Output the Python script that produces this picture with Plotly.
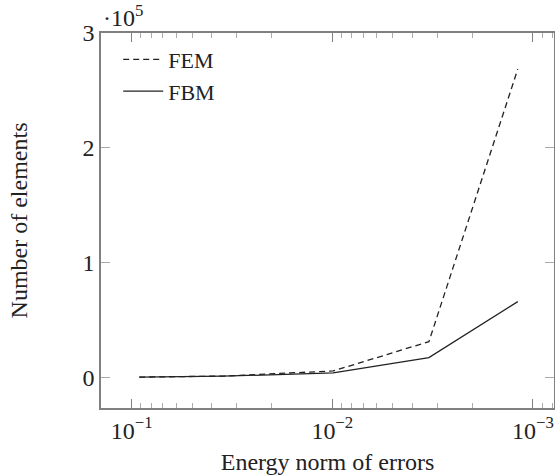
import plotly.graph_objects as go

error_norm = [0.0917, 0.035, 0.0099, 0.0033, 0.00119]
fem_elements = [100, 1000, 5500, 31000, 268600]
fbm_elements = [100, 900, 3800, 17100, 65900]

x_major = [0.1, 0.01, 0.001]
x_major_text = ["10<sup>−1</sup>", "10<sup>−2</sup>", "10<sup>−3</sup>"]
x_minor = [m * 10.0 ** e for e in (-4, -3, -2, -1) for m in range(2, 10)]
y_ticks = [0, 100000, 200000, 300000]
y_text = ["0", "1", "2", "3"]

FONT = "Liberation Serif"
AX = "#808080"
FS = 24

fig = go.Figure()
fig.add_trace(go.Scatter(x=error_norm, y=fem_elements, mode="lines", name="FEM",
                         line=dict(color="#222222", width=1.3, dash="6px,4px")))
fig.add_trace(go.Scatter(x=error_norm, y=fbm_elements, mode="lines", name="FBM",
                         line=dict(color="#222222", width=1.3)))

fig.update_layout(
    width=555, height=475,
    margin=dict(l=101, r=1, t=33, b=67),
    paper_bgcolor="white", plot_bgcolor="white",
    font=dict(family=FONT, size=FS, color="#222222"),
    showlegend=True,
    legend=dict(x=0.038, y=0.985, xanchor="left", yanchor="top",
                bgcolor="rgba(255,255,255,0)", borderwidth=0,
                font=dict(family=FONT, size=22), tracegroupgap=0,
                itemwidth=40),
    xaxis=dict(type="log", range=[-0.847, -3.105], autorange=False, automargin=False,
               tickmode="array", tickvals=x_major, ticktext=x_major_text,
               ticks="inside", ticklen=9, tickcolor=AX, tickwidth=1,
               minor=dict(tickmode="array", tickvals=x_minor, ticks="inside",
                          ticklen=5, tickcolor="#aaaaaa", tickwidth=1, showgrid=False),
               showline=True, linecolor=AX, linewidth=1.5, mirror="ticks",
               showgrid=False, zeroline=False,
               title=dict(text="Energy norm of errors", font=dict(family=FONT, size=FS), standoff=14),
               tickfont=dict(family=FONT, size=FS)),
    yaxis=dict(range=[-26800, 300000], autorange=False, automargin=False,
               tickmode="array", tickvals=y_ticks, ticktext=y_text,
               ticks="inside", ticklen=9, tickcolor="#aaaaaa", tickwidth=1,
               showline=True, linecolor=AX, linewidth=1.5, mirror="ticks",
               showgrid=False, zeroline=False,
               title=dict(text="Number of elements", font=dict(family=FONT, size=FS), standoff=48),
               tickfont=dict(family=FONT, size=FS)),
    annotations=[dict(text="·10<sup>5</sup>", xref="paper", yref="paper",
                      x=0.0, y=1.0, xanchor="left", yanchor="bottom", showarrow=False,
                      font=dict(family=FONT, size=FS), yshift=0)],
)

fig.write_html("out.html", config={"displayModeBar": False},
               post_script="document.body.style.margin='0';document.body.style.overflow='hidden';")
